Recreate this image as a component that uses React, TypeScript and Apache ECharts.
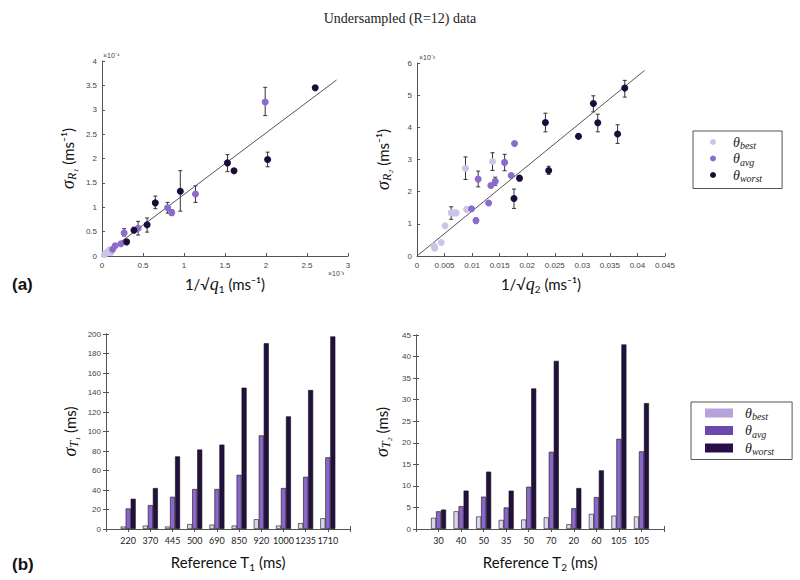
import React, { useEffect, useRef } from 'react';
import * as echarts from 'echarts';

// ---- Top-left: sigma_R1 vs 1/sqrt(q1)  (x in 1e-3, y in 1e-4)
const q1Best = [[0.03, 0.03], [0.05, 0.06], [0.07, 0.08], [0.09, 0.12], [0.11, 0.07]];
const q1Avg = [[0.13, 0.14], [0.16, 0.21], [0.23, 0.25], [0.27, 0.47], [0.44, 0.57], [0.80, 0.99], [0.85, 0.89], [1.14, 1.27], [1.99, 3.16]];
const q1Worst = [[0.30, 0.29], [0.39, 0.53], [0.55, 0.64], [0.65, 1.09], [0.955, 1.33], [1.53, 1.91], [1.61, 1.75], [2.02, 1.98], [2.60, 3.45]];
const q1Err = [[0.27, 0.41, 0.56], [0.44, 0.43, 0.71], [0.80, 0.88, 1.10], [0.85, 0.83, 0.95], [1.14, 1.10, 1.44], [1.99, 2.88, 3.46], [0.39, 0.48, 0.59], [0.55, 0.49, 0.78], [0.65, 0.97, 1.23], [0.955, 0.92, 1.75], [1.53, 1.73, 2.08], [1.61, 1.71, 1.79], [2.02, 1.83, 2.13], [2.60, 3.42, 3.48]];
const q1Fit = [[0, 0], [2.86, 3.61]];

// ---- Top-right: sigma_R2 vs 1/sqrt(q2)  (y in 1e-3)
const q2Best = [[0.0031, 0.31], [0.0032, 0.24], [0.0044, 0.42], [0.0051, 0.94], [0.0062, 1.34], [0.0066, 1.34], [0.0071, 1.34], [0.0088, 2.73], [0.0090, 1.45], [0.0137, 2.94]];
const q2Avg = [[0.0099, 1.47], [0.0107, 1.10], [0.0111, 2.39], [0.0130, 1.65], [0.0134, 2.19], [0.0142, 2.32], [0.0159, 2.91], [0.0171, 2.50], [0.0177, 3.50]];
const q2Worst = [[0.0176, 1.79], [0.0186, 2.42], [0.0233, 4.15], [0.0239, 2.66], [0.0293, 3.72], [0.0320, 4.74], [0.0328, 4.14], [0.0364, 3.79], [0.0377, 5.22]];
const q2Err = [[0.0062, 1.14, 1.53], [0.0088, 2.38, 3.08], [0.0137, 2.66, 3.21], [0.0111, 2.15, 2.64], [0.0142, 2.20, 2.45], [0.0159, 2.65, 3.16], [0.0107, 1.02, 1.18], [0.0176, 1.48, 2.08], [0.0186, 2.34, 2.50], [0.0233, 3.86, 4.44], [0.0239, 2.54, 2.79], [0.0320, 4.48, 4.98], [0.0328, 3.86, 4.41], [0.0364, 3.50, 4.08], [0.0377, 4.94, 5.46]];
const q2Fit = [[0, 0], [0.0413, 5.77]];

// ---- Bottom-left: sigma_T1 per reference T1
const T1_LABELS = ['220', '370', '445', '500', '690', '850', '920', '1000', '1235', '1710'];
const t1Best = [2.5, 3.5, 2.5, 5, 4.5, 3.5, 10, 3.5, 6, 11];
const t1Avg = [21, 24.5, 33, 41, 41, 55.5, 96, 42, 53.5, 73.5];
const t1Worst = [31, 42, 74.5, 81.5, 86.5, 145, 190.5, 115.5, 142.5, 197.5];

// ---- Bottom-right: sigma_T2 per reference T2
const T2_LABELS = ['30', '40', '50', '35', '50', '70', '20', '60', '105', '105'];
const t2Best = [2.6, 4.1, 2.9, 2.1, 2.2, 2.7, 1.1, 3.5, 3.1, 2.9];
const t2Avg = [4.1, 5.3, 7.5, 5.0, 9.8, 17.9, 4.8, 7.4, 20.9, 18.0];
const t2Worst = [4.5, 8.9, 13.3, 8.9, 32.6, 39.0, 9.5, 13.6, 42.8, 29.2];

const C_BEST = '#ccc4e4';
const C_AVG = '#8b6bcb';
const C_WORST = '#1d0b3b';
const B_BEST = '#dcd5ef';
const B_AVG = '#8c66cc';
const B_WORST = '#22103f';

const SANS = 'Liberation Sans';
const SERIF = 'Liberation Serif';
const NAMEFONT = 'Lato';

const tickLabel = { fontSize: 8, color: '#444', fontFamily: SANS };
const axisLine = { show: true, lineStyle: { color: '#555', width: 1 } };
const axisTick = { show: true, inside: true, length: 3, lineStyle: { color: '#555' } };

const nameRich = {
  n: { fontFamily: NAMEFONT, fontSize: 15, color: '#111', lineHeight: 20 },
  m: { fontFamily: SERIF, fontStyle: 'italic', fontSize: 18, color: '#111', lineHeight: 20 },
  s: { fontFamily: SERIF, fontStyle: 'italic', fontSize: 12, color: '#111', verticalAlign: 'bottom', lineHeight: 21 },
  k: { fontFamily: NAMEFONT, fontSize: 10, color: '#111', verticalAlign: 'bottom', lineHeight: 20 },
};

const toBars = (vals: number[]) => vals.map((v, i) => [i + 1, v]);

function errSeries(data: number[][], axisIndex: number) {
  return {
    type: 'custom',
    xAxisIndex: axisIndex,
    yAxisIndex: axisIndex,
    data,
    silent: true,
    z: 1,
    encode: { x: 0, y: [1, 2] },
    renderItem: (_params: any, api: any) => {
      const x = api.value(0);
      const p1 = api.coord([x, api.value(1)]);
      const p2 = api.coord([x, api.value(2)]);
      const style = { stroke: '#333', lineWidth: 1 };
      return {
        type: 'group',
        children: [
          { type: 'line', shape: { x1: p1[0], y1: p1[1], x2: p2[0], y2: p2[1] }, style },
          { type: 'line', shape: { x1: p1[0] - 2, y1: p1[1], x2: p1[0] + 2, y2: p1[1] }, style },
          { type: 'line', shape: { x1: p2[0] - 2, y1: p2[1], x2: p2[0] + 2, y2: p2[1] }, style },
        ],
      };
    },
  };
}

const legendFormatter = (name: string) => {
  const k = name.indexOf('best') >= 0 ? 'best' : name.indexOf('avg') >= 0 ? 'avg' : 'worst';
  return `{t|θ}{s|${k}}`;
};
const legendRich = {
  t: { fontFamily: SERIF, fontStyle: 'italic', fontSize: 14, color: '#222', lineHeight: 16, padding: [0, 0, 0, 0] },
  s: { fontFamily: SERIF, fontStyle: 'italic', fontSize: 10, color: '#222', lineHeight: 17, verticalAlign: 'bottom' },
};

export default function App() {
  const ref = useRef<HTMLDivElement>(null);
  useEffect(() => {
    if (!ref.current) return;
    const chart = echarts.init(ref.current, undefined, { renderer: 'svg' });
    const scatter = (name: string, data: number[][], color: string, idx: number) => ({
      name, type: 'scatter', xAxisIndex: idx, yAxisIndex: idx, data,
      symbol: 'circle', symbolSize: 7, itemStyle: { color, opacity: 1 }, z: 3,
    });
    const fit = (data: number[][], idx: number) => ({
      type: 'line', xAxisIndex: idx, yAxisIndex: idx, data, symbol: 'none', silent: true,
      lineStyle: { color: '#555', width: 1 }, z: 2,
    });
    const bar = (name: string, data: number[], color: string, idx: number) => ({
      name, type: 'bar', xAxisIndex: idx, yAxisIndex: idx, data: toBars(data),
      barWidth: 5, barGap: '0%',
      itemStyle: { color, borderColor: '#111', borderWidth: 0.6 },
    });
    const valueX = (grid: number, max: number, interval: number, name: string, gap: number) => ({
      type: 'value', gridIndex: grid, min: 0, max, interval, position: 'bottom',
      axisLine, axisTick, splitLine: { show: false }, axisLabel: { ...tickLabel, margin: 5 },
      name, nameLocation: 'middle', nameGap: gap, nameTextStyle: { rich: nameRich },
    });
    const valueY = (grid: number, max: number, interval: number, name: string, gap: number) => ({
      type: 'value', gridIndex: grid, min: 0, max, interval, position: 'left',
      axisLine, axisTick, splitLine: { show: false }, axisLabel: { ...tickLabel, margin: 5 },
      name, nameLocation: 'middle', nameGap: gap, nameRotate: 90, nameTextStyle: { rich: nameRich },
    });
    const catX = (grid: number, labels: string[], name: string) => ({
      type: 'value', gridIndex: grid, min: 0, max: 11, interval: 1, position: 'bottom',
      axisLine, axisTick, splitLine: { show: false },
      axisLabel: { fontSize: 9, color: '#222', fontFamily: NAMEFONT, margin: 7,
        formatter: (v: number) => (v >= 1 && v <= labels.length ? labels[v - 1] : '') },
      name, nameLocation: 'middle', nameGap: 23, nameTextStyle: { rich: nameRich },
    });
    const boxX = (grid: number) => ({
      type: 'value', gridIndex: grid, min: 0, max: 11, interval: 1, position: 'top',
      axisLine, axisTick, axisLabel: { show: false }, splitLine: { show: false },
    });
    const boxY = (grid: number, max: number, interval: number) => ({
      type: 'value', gridIndex: grid, min: 0, max, interval, position: 'right',
      axisLine, axisTick, axisLabel: { show: false }, splitLine: { show: false },
    });

    chart.setOption({
      animation: false,
      backgroundColor: '#fff',
      title: {
        text: 'Undersampled (R=12) data', left: 'center', top: 6,
        textStyle: { fontFamily: SERIF, fontSize: 14, fontWeight: 'normal', color: '#222' },
      },
      grid: [
        { left: 102, top: 61, width: 246, height: 195 },
        { left: 417, top: 63, width: 248, height: 193 },
        { left: 106, top: 334, width: 244, height: 195 },
        { left: 416, top: 335, width: 248, height: 194 },
      ],
      xAxis: [
        valueX(0, 3, 0.5, '{n|1/√}{m|q}{k|1}{n| (ms⁻¹)}', 18),
        valueX(1, 0.045, 0.005, '{n|1/√}{m|q}{k|2}{n| (ms⁻¹)}', 18),
        catX(2, T1_LABELS, '{n|Reference T}{k|1}{n| (ms)}'),
        catX(3, T2_LABELS, '{n|Reference T}{k|2}{n| (ms)}'),
        boxX(2),
        boxX(3),
      ],
      yAxis: [
        valueY(0, 4, 0.5, '{m|σ}{s|R₁}{n| (ms⁻¹)}', 24),
        valueY(1, 6, 1, '{m|σ}{s|R₂}{n| (ms⁻¹)}', 24),
        valueY(2, 200, 20, '{m|σ}{s|T₁}{n| (ms)}', 26),
        valueY(3, 45, 5, '{m|σ}{s|T₂}{n| (ms)}', 24),
        boxY(2, 200, 20),
        boxY(3, 45, 5),
      ],
      legend: [
        {
          orient: 'vertical', left: 693, top: 131, selectedMode: false,
          data: ['θ best', 'θ avg', 'θ worst'],
          icon: 'circle', itemWidth: 6, itemHeight: 6, itemGap: 1,
          padding: [4, 20, 5, 17], borderColor: '#555', borderWidth: 1,
          formatter: legendFormatter,
          textStyle: { rich: { ...legendRich, t: { ...legendRich.t, padding: [0, 0, 0, 12] } } },
        },
        {
          orient: 'vertical', left: 691, top: 402, selectedMode: false,
          data: [
            { name: 'θ best bar', itemStyle: { color: '#b7a2dc', borderWidth: 0 } },
            { name: 'θ avg bar', itemStyle: { color: '#6c48ad', borderWidth: 0 } },
            { name: 'θ worst bar', itemStyle: { color: '#2a0e4b', borderWidth: 0 } },
          ],
          icon: 'rect', itemWidth: 28, itemHeight: 9, itemGap: 2,
          padding: [4, 18, 3, 14], borderColor: '#555', borderWidth: 1,
          formatter: legendFormatter,
          textStyle: { rich: { ...legendRich, t: { ...legendRich.t, padding: [0, 0, 0, 7] } } },
        },
      ],
      graphic: [
        { type: 'text', left: 103, top: 52, style: { text: '×10⁻⁴', fontSize: 7, fill: '#444', fontFamily: SANS } },
        { type: 'text', left: 328, top: 270, style: { text: '×10⁻³', fontSize: 7, fill: '#444', fontFamily: SANS } },
        { type: 'text', left: 419, top: 54, style: { text: '×10⁻³', fontSize: 7, fill: '#444', fontFamily: SANS } },
        { type: 'text', left: 12, top: 276, style: { text: '(a)', fontSize: 17, fontWeight: 'bold', fill: '#111', fontFamily: SANS } },
        { type: 'text', left: 12, top: 556, style: { text: '(b)', fontSize: 17, fontWeight: 'bold', fill: '#111', fontFamily: SANS } },
      ],
      series: [
        fit(q1Fit, 0),
        errSeries(q1Err, 0),
        scatter('θ best', q1Best, C_BEST, 0),
        scatter('θ avg', q1Avg, C_AVG, 0),
        scatter('θ worst', q1Worst, C_WORST, 0),
        fit(q2Fit, 1),
        errSeries(q2Err, 1),
        scatter('θ best', q2Best, C_BEST, 1),
        scatter('θ avg', q2Avg, C_AVG, 1),
        scatter('θ worst', q2Worst, C_WORST, 1),
        bar('θ best bar', t1Best, B_BEST, 2),
        bar('θ avg bar', t1Avg, B_AVG, 2),
        bar('θ worst bar', t1Worst, B_WORST, 2),
        bar('θ best bar', t2Best, B_BEST, 3),
        bar('θ avg bar', t2Avg, B_AVG, 3),
        bar('θ worst bar', t2Worst, B_WORST, 3),
      ],
    });
    return () => chart.dispose();
  }, []);
  return (
    <div
      ref={ref}
      style={{ position: 'fixed', left: 0, top: 0, width: 800, height: 580, background: '#fff' }}
    />
  );
}
